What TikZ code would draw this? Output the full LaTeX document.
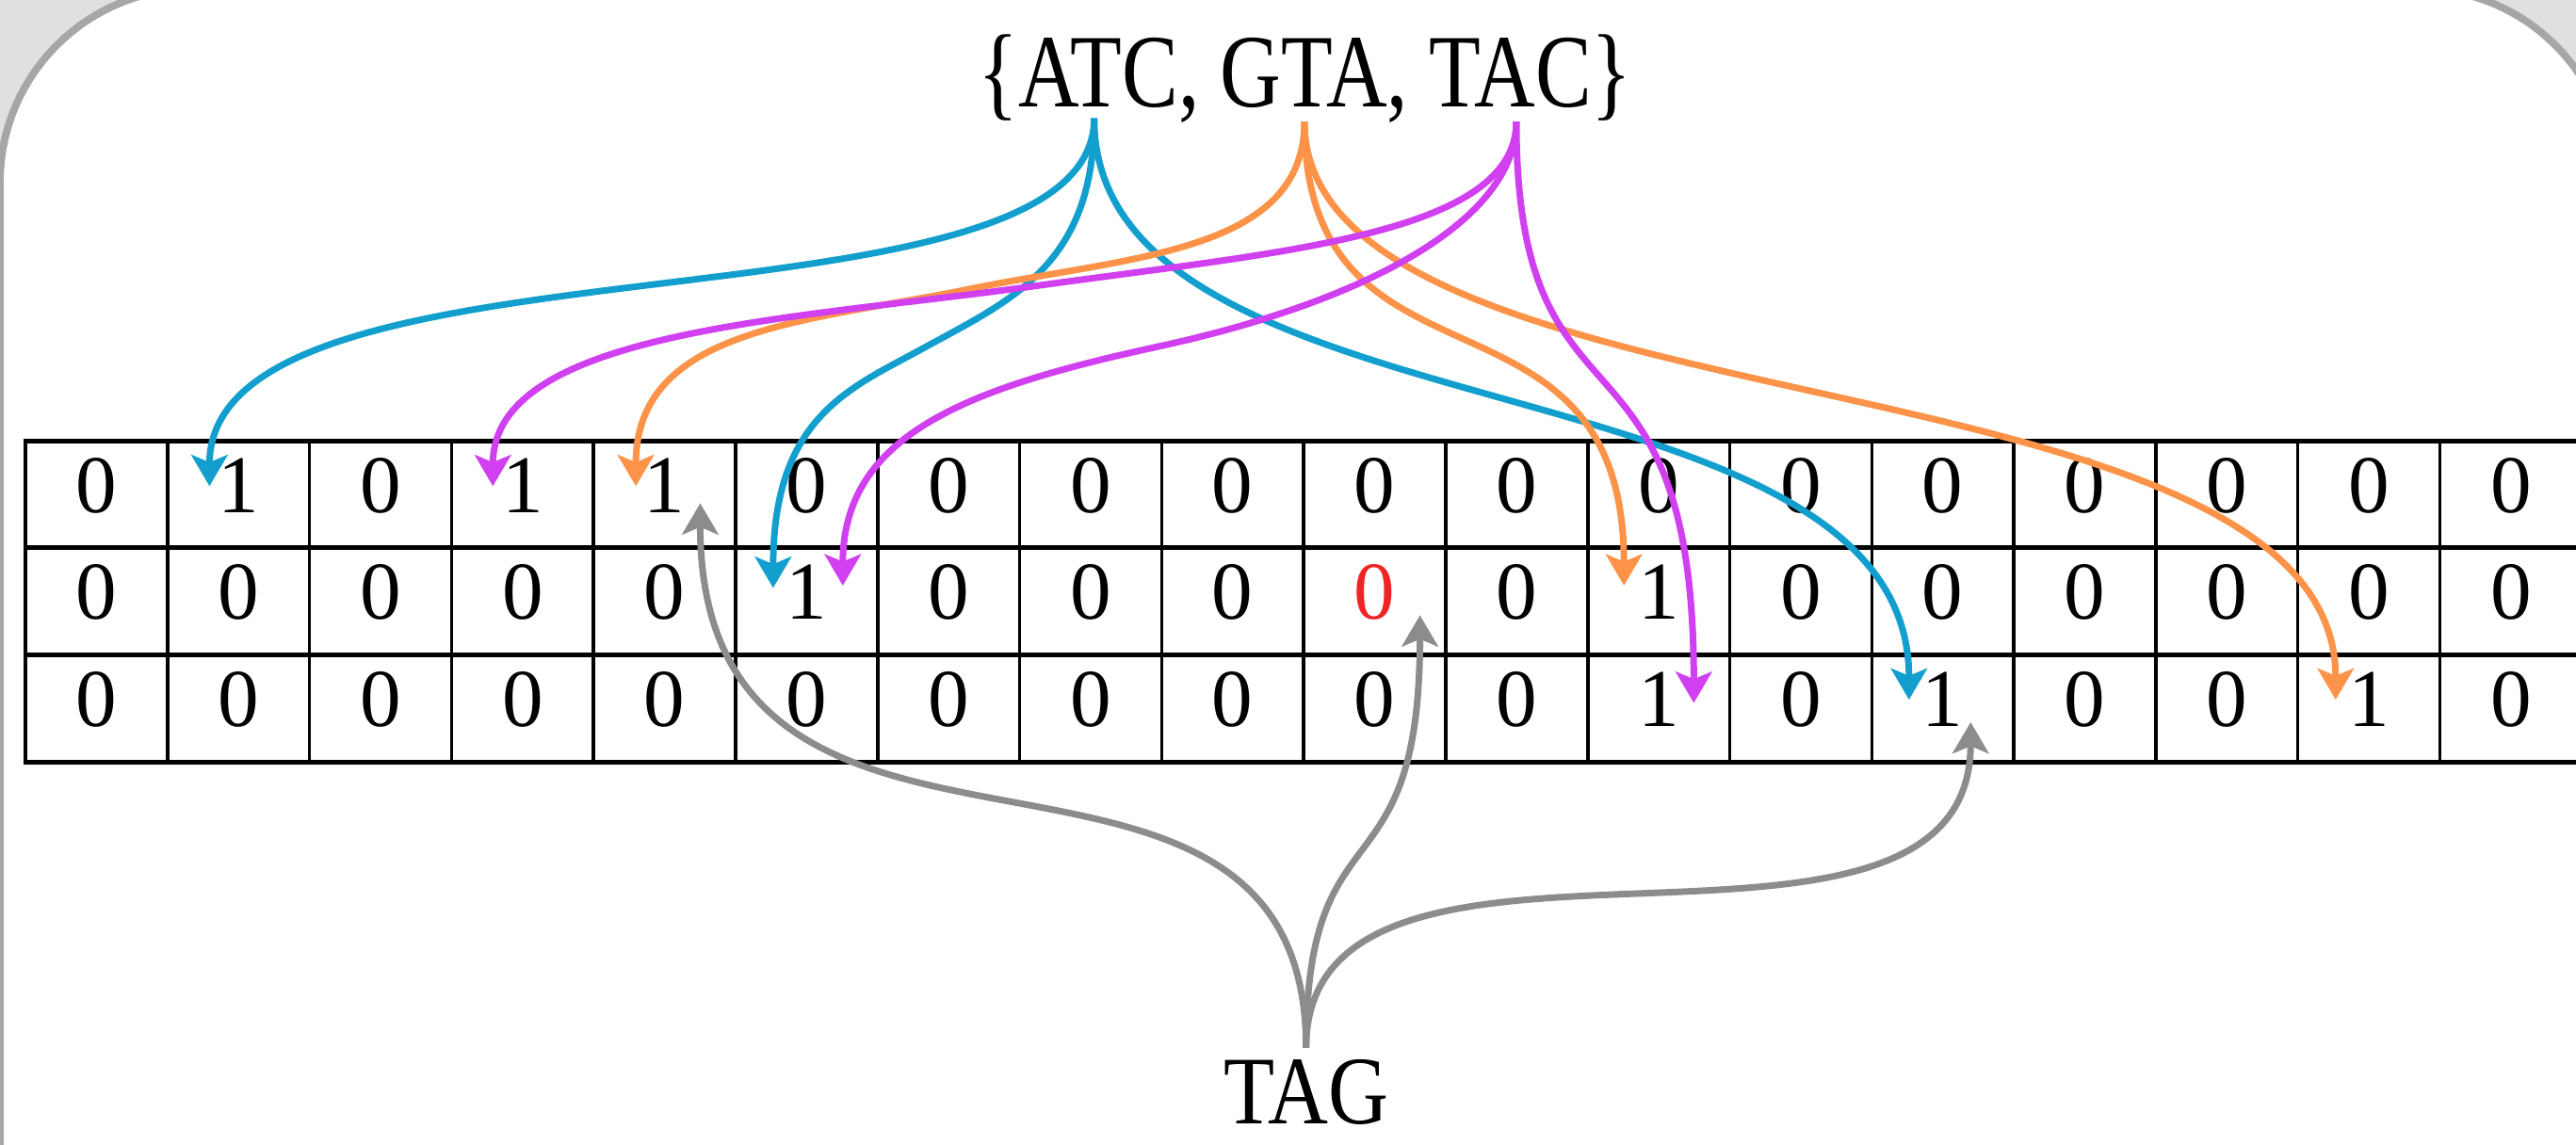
\documentclass[tikz,border=0pt]{standalone}
\usepackage{fontspec}
\setmainfont{Liberation Serif}
\newfontfamily\hdfont[FakeStretch=0.81]{Liberation Serif}
\newfontfamily\tagfont[FakeStretch=0.86]{Liberation Serif}
\usetikzlibrary{arrows.meta}

\definecolor{bggray}{RGB}{224,224,224}
\definecolor{framegray}{RGB}{166,166,166}
\definecolor{cblue}{RGB}{19,159,206}
\definecolor{corange}{RGB}{253,147,72}
\definecolor{cpurple}{RGB}{208,63,240}
\definecolor{cgray}{RGB}{140,140,140}
\definecolor{cred}{RGB}{240,36,36}

\begin{document}
\begin{tikzpicture}[x=1pt,y=-1pt,
  link/.style={line width=4pt, -{Stealth[length=19pt,width=22pt,inset=4.5pt]}},
  digit/.style={anchor=base, inner sep=0pt, font=\fontsize{50}{60}\selectfont},
  hline/.style={line width=2.8pt},
  vline/.style={line width=2pt},
  label/.style={anchor=base, inner sep=0pt},
]
\useasboundingbox (0,0) rectangle (1568,697);
% backdrop and rounded panel
\fill[bggray] (0,0) rectangle (1568,697);
\draw[framegray, line width=4.5pt, fill=white, rounded corners=118pt] (0,-7) rectangle (1590,900);

% bit table grid
\foreach \i in {0,...,18}
  \draw[vline] ({15.5+\i*86.45},268.5) -- ({15.5+\i*86.45},464);
\foreach \y in {268.5,333.5,398.8,464}
  \draw[hline] (14.5,\y) -- (1572.6,\y);

% bit values
\foreach \row [count=\r] in {
  {0,1,0,1,1,0,0,0,0,0,0,0,0,0,0,0,0,0},
  {0,0,0,0,0,1,0,0,0,{\color{cred}0},0,1,0,0,0,0,0,0},
  {0,0,0,0,0,0,0,0,0,0,0,1,0,1,0,0,1,0}} {
  \foreach \v [count=\c] in \row
    \node[digit] (d-\r-\c) at ({15.5+(\c-0.5)*86.45},{246.8+\r*65.2}) {\v};
}

% labels
\node[label, font=\hdfont\fontsize{63.4}{70}\selectfont] (set) at (794.5,65) {\{ATC, GTA, TAC\}};
\node[label, font=\tagfont\fontsize{59}{66}\selectfont] (tag) at (795,684) {TAG};

% connector ends
\coordinate (sA) at (666,72);
\coordinate (sG) at (794,74);
\coordinate (sT) at (923,74);
\coordinate (sTAG) at (795,638);
\coordinate (b1) at (127.5,296);
\coordinate (b2) at (470.6,358);
\coordinate (b3) at (1162,426);
\coordinate (o1) at (387,296);
\coordinate (o2) at (988.5,356.5);
\coordinate (o3) at (1421.7,426);
\coordinate (p1) at (300,296);
\coordinate (p2) at (513,356.5);
\coordinate (p3) at (1031,428);
\coordinate (g1) at (426.2,306.4);
\coordinate (g2) at (864.3,374.6);
\coordinate (g3) at (1199.5,439.7);

% TAG
\draw[link,cgray] (sTAG) .. controls (795,400) and (426.2,580) .. (g1);
\draw[link,cgray] (sTAG) .. controls (795,486) and (864.3,550) .. (g2);
\draw[link,cgray] (sTAG) .. controls (795,467) and (1199.5,620) .. (g3);

% ATC
\draw[link,cblue] (sA) .. controls (666,211) and (127.5,133) .. (b1);
\draw[link,cblue] (sA) .. controls (666,162) and (614.6,183) .. (562,212)
                       .. controls (518.2,236.2) and (470.6,253) .. (b2);
\draw[link,cblue] (sA) .. controls (666,273) and (1162,212) .. (b3);

% GTA
\draw[link,corange] (sG) .. controls (794,154) and (688,156) .. (590,176)
                         .. controls (492,196) and (387,199) .. (o1);
\draw[link,corange] (sG) .. controls (794,252) and (988.5,160) .. (o2);
\draw[link,corange] (sG) .. controls (794,267) and (1421.7,209) .. (o3);

% TAC
\draw[link,cpurple] (sT) .. controls (923,143) and (779.5,153.3) .. (631,174)
                         .. controls (482.5,194.7) and (300,201) .. (p1);
\draw[link,cpurple] (sT) .. controls (923,134) and (832,183.4) .. (705,211)
                         .. controls (587.8,236.4) and (513,265) .. (p2);
\draw[link,cpurple] (sT) .. controls (923,276) and (1031,183) .. (p3);
\end{tikzpicture}
\end{document}
